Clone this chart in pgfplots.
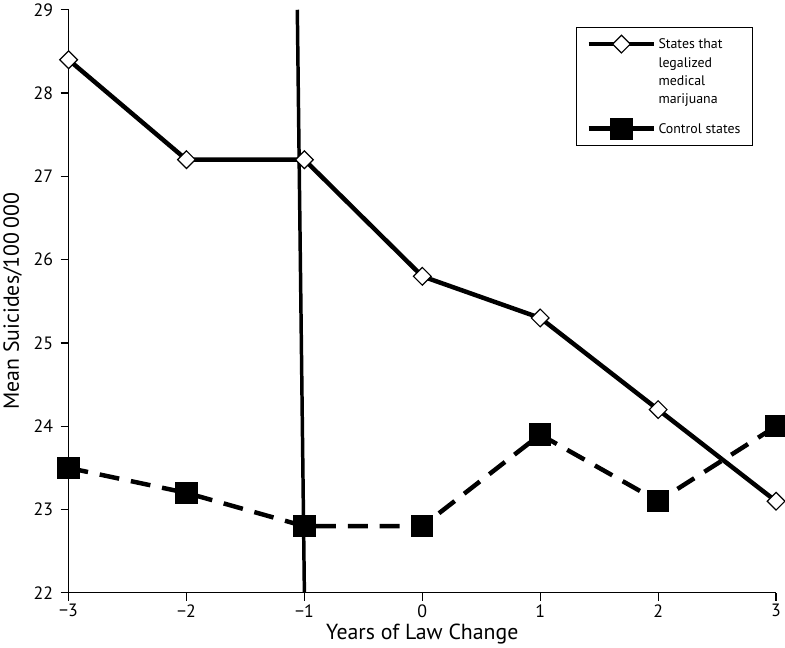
\documentclass[border=0pt]{standalone}
\usepackage{fontspec}
\setmainfont{PT Sans}
\usepackage{pgfplots}
\pgfplotsset{compat=1.18}
\begin{document}
\begin{tikzpicture}
\begin{axis}[
  scale only axis,
  width=711bp, height=586bp,
  xmin=-3, xmax=3, ymin=22, ymax=29,
  xtick={-3,-2,-1,0,1,2,3},
  xticklabels={−3,−2,−1,0,1,2,3},
  ytick={22,23,24,25,26,27,28,29},
  yticklabels={22,23,24,25,26,27,28,29},
  axis x line*=bottom, axis y line*=left,
  axis line style={line width=1.2pt},
  tick style={line width=1.2pt, black},
  tick align=outside, major tick length=8bp,
  xlabel={Years of Law Change}, ylabel={Mean Suicides/100\,000},
  label style={font=\fontsize{22}{24}\selectfont},
  tick label style={font=\fontsize{18}{21}\selectfont},
  yticklabel style={xshift=-4bp},
  ylabel style={yshift=5bp},
  clip=false,
  legend style={at={(0.717,0.971)}, anchor=north west, draw=black, line width=1.2pt,
    font=\fontsize{14}{18.3}\selectfont, row sep=13bp, nodes={align=left},
    inner xsep=10bp, inner ysep=8bp},
  legend cell align=left,
]
\addplot[line width=4.5bp, black, mark=square*, mark options={fill=white, solid, line width=1.2pt, rotate=45}, mark size=6.3bp,
  legend image code/.code={\draw[mark repeat=2,mark phase=2] plot coordinates {(0bp,28bp)(33bp,28bp)(66bp,28bp)};}]
  coordinates {(-3,28.4) (-2,27.2) (-1,27.2) (0,25.8) (1,25.3) (2,24.2) (3,23.1)};
\addlegendentry{States that\\legalized\\medical\\marijuana}
\addplot[line width=4.5bp, black, dash pattern=on 20bp off 12bp, mark=square*, mark options={solid, fill=black}, mark size=9bp,
  legend image code/.code={\draw[solid] (0bp,1bp)--(21bp,1bp) (45bp,1bp)--(66bp,1bp); \draw[solid] plot coordinates {(33bp,1bp)};}]
  coordinates {(-3,23.5) (-2,23.2) (-1,22.8) (0,22.8) (1,23.9) (2,23.1) (3,24.0)};
\addlegendentry{Control states}
\addplot[line width=3.5bp, black, forget plot] coordinates {(-1.06,29) (-1,22)};
\end{axis}
\end{tikzpicture}
\end{document}
